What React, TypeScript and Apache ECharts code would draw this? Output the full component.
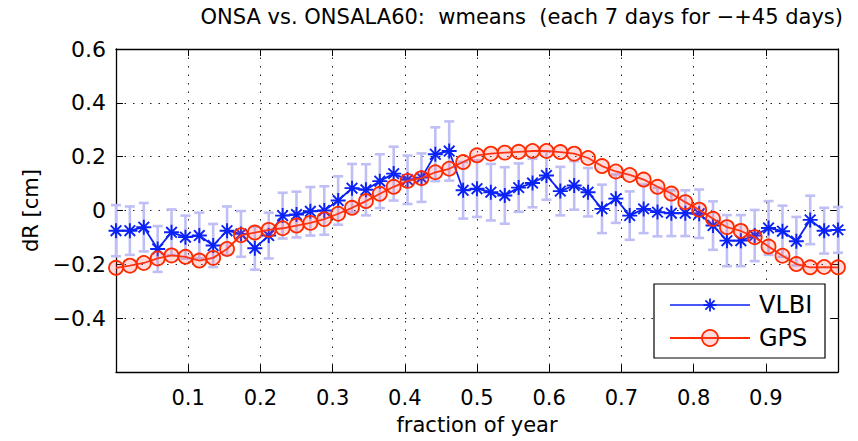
import React, { useEffect, useRef } from 'react';
import * as echarts from 'echarts';

// fraction of year for each 7-day window
const xFrac = [
  0, 0.0192, 0.0385, 0.0577, 0.0769, 0.0962, 0.1154, 0.1346, 0.1538, 0.1731,
  0.1923, 0.2115, 0.2308, 0.25, 0.2692, 0.2885, 0.3077, 0.3269, 0.3462, 0.3654,
  0.3846, 0.4038, 0.4231, 0.4423, 0.4615, 0.4808, 0.5, 0.5192, 0.5385, 0.5577,
  0.5769, 0.5962, 0.6154, 0.6346, 0.6538, 0.6731, 0.6923, 0.7115, 0.7308, 0.75,
  0.7692, 0.7885, 0.8077, 0.8269, 0.8462, 0.8654, 0.8846, 0.9038, 0.9231, 0.9423,
  0.9615, 0.9808, 1.0,
];

// VLBI weighted means [cm]
const vlbi = [
  -0.075, -0.075, -0.062, -0.143, -0.081, -0.099, -0.093, -0.13, -0.075, -0.087,
  -0.14, -0.093, -0.019, -0.015, -0.003, 0.0, 0.037, 0.083, 0.077, 0.109,
  0.137, 0.114, 0.122, 0.209, 0.221, 0.075, 0.081, 0.068, 0.056, 0.085,
  0.102, 0.13, 0.072, 0.093, 0.068, 0.006, 0.044, -0.019, 0.006, -0.006,
  -0.01, -0.01, -0.012, -0.056, -0.112, -0.112, -0.093, -0.065, -0.077, -0.114,
  -0.035, -0.075, -0.072,
];

// VLBI error (half length of bar) [cm]
const vlbiErr = [
  0.095, 0.09, 0.09, 0.085, 0.085, 0.08, 0.085, 0.08, 0.09, 0.085,
  0.08, 0.085, 0.085, 0.085, 0.09, 0.09, 0.09, 0.09, 0.095, 0.1,
  0.1, 0.09, 0.09, 0.1, 0.11, 0.105, 0.105, 0.105, 0.105, 0.09,
  0.09, 0.09, 0.09, 0.09, 0.09, 0.09, 0.09, 0.09, 0.09, 0.09,
  0.085, 0.085, 0.09, 0.09, 0.095, 0.095, 0.095, 0.1, 0.095, 0.09,
  0.09, 0.085, 0.085,
];

// GPS weighted means [cm]
const gps = [
  -0.213, -0.205, -0.195, -0.178, -0.167, -0.172, -0.186, -0.176, -0.143, -0.092,
  -0.082, -0.072, -0.066, -0.056, -0.046, -0.032, -0.012, 0.01, 0.035, 0.062,
  0.088, 0.11, 0.12, 0.142, 0.155, 0.18, 0.205, 0.211, 0.215, 0.218,
  0.221, 0.221, 0.217, 0.211, 0.195, 0.165, 0.145, 0.132, 0.115, 0.088,
  0.063, 0.031, 0.003, -0.031, -0.062, -0.076, -0.099, -0.134, -0.168, -0.199,
  -0.211, -0.21, -0.211,
];

const FONT = 'DejaVu Sans';
const BLUE = '#0a22f5';
const RED = '#ff2a00';
const ERRC = '#bfbff6';
const STAR = 'path://M5,0 L5,10 M0,5 L10,5 M1.46,1.46 L8.54,8.54 M1.46,8.54 L8.54,1.46';

function fmt(v: number): string {
  if (Math.abs(v) < 1e-9) return '0';
  return v.toFixed(1).replace('-', '\u2212');
}

export default function App() {
  const ref = useRef<HTMLDivElement>(null);
  useEffect(() => {
    const chart = echarts.init(ref.current!, null, { renderer: 'svg' });
    const axisLine = { show: true, onZero: false, lineStyle: { color: '#000', width: 1.3 } };
    const tick = { show: true, inside: true, length: 7, lineStyle: { color: '#000', width: 1 } };
    const dotted = { show: true, lineStyle: { color: '#222', width: 1, type: [1.5, 7] } };

    const legendY1 = 305;
    const legendY2 = 338;
    const starArms = [0, 45, 90, 135].map((a) => {
      const r = (a * Math.PI) / 180;
      const L = 6.5;
      return {
        type: 'line',
        shape: { x1: 710 - L * Math.cos(r), y1: legendY1 - L * Math.sin(r), x2: 710 + L * Math.cos(r), y2: legendY1 + L * Math.sin(r) },
        style: { stroke: BLUE, lineWidth: 1.8 },
        z: 101,
      };
    });

    const option: any = {
      animation: false,
      backgroundColor: '#fff',
      title: {
        text: 'ONSA vs. ONSALA60:  wmeans  (each 7 days for \u2212+45 days)',
        right: 15,
        top: 6,
        padding: 0,
        textStyle: { fontFamily: FONT, fontSize: 21, fontWeight: 'normal', color: '#000' },
      },
      grid: { left: 116, right: 20, top: 49, bottom: 69 },
      xAxis: [
        {
          type: 'value',
          min: 0,
          max: 1,
          interval: 0.1,
          position: 'bottom',
          name: 'fraction of year',
          nameLocation: 'middle',
          nameGap: 42,
          nameTextStyle: { fontFamily: FONT, fontSize: 21, color: '#000' },
          axisLine,
          axisTick: tick,
          splitLine: dotted,
          axisLabel: {
            showMinLabel: false,
            showMaxLabel: false,
            margin: 15,
            fontFamily: FONT,
            fontSize: 21,
            color: '#000',
            formatter: (v: number) => v.toFixed(1),
          },
        },
        {
          type: 'value',
          min: 0,
          max: 1,
          interval: 0.1,
          position: 'top',
          axisLine,
          axisTick: tick,
          splitLine: { show: false },
          axisLabel: { show: false },
        },
      ],
      yAxis: [
        {
          type: 'value',
          min: -0.6,
          max: 0.6,
          interval: 0.2,
          position: 'left',
          name: 'dR [cm]',
          nameLocation: 'middle',
          nameGap: 66,
          nameTextStyle: { fontFamily: FONT, fontSize: 21, color: '#000' },
          axisLine,
          axisTick: tick,
          splitLine: dotted,
          axisLabel: {
            showMinLabel: false,
            margin: 10,
            fontFamily: FONT,
            fontSize: 22,
            color: '#000',
            formatter: fmt,
          },
        },
        {
          type: 'value',
          min: -0.6,
          max: 0.6,
          interval: 0.2,
          position: 'right',
          axisLine,
          axisTick: tick,
          splitLine: { show: false },
          axisLabel: { show: false },
        },
      ],
      series: [
        {
          type: 'custom',
          name: 'VLBI err',
          silent: true,
          z: 1,
          xAxisIndex: 0,
          yAxisIndex: 0,
          data: xFrac.map((x, i) => [x, vlbi[i] - vlbiErr[i], vlbi[i] + vlbiErr[i]]),
          encode: { x: 0, y: [1, 2] },
          renderItem: (params: any, api: any) => {
            const x = api.value(0);
            const lo = api.coord([x, api.value(1)]);
            const hi = api.coord([x, api.value(2)]);
            const w = 5;
            const style = { stroke: ERRC, lineWidth: 2.6 };
            return {
              type: 'group',
              children: [
                { type: 'line', shape: { x1: lo[0], y1: lo[1], x2: hi[0], y2: hi[1] }, style },
                { type: 'line', shape: { x1: lo[0] - w, y1: lo[1], x2: lo[0] + w, y2: lo[1] }, style },
                { type: 'line', shape: { x1: hi[0] - w, y1: hi[1], x2: hi[0] + w, y2: hi[1] }, style },
              ],
            };
          },
        },
        {
          type: 'line',
          name: 'VLBI',
          z: 2,
          data: xFrac.map((x, i) => [x, vlbi[i]]),
          symbol: STAR,
          symbolSize: 15,
          showSymbol: true,
          lineStyle: { color: BLUE, width: 1.8 },
          itemStyle: { color: BLUE, borderColor: BLUE, borderWidth: 1.9 },
        },
        {
          type: 'line',
          name: 'GPS',
          z: 3,
          data: xFrac.map((x, i) => [x, gps[i]]),
          symbol: 'circle',
          symbolSize: 14,
          showSymbol: true,
          lineStyle: { color: RED, width: 1.8 },
          itemStyle: { color: 'rgba(255,90,90,0.22)', borderColor: RED, borderWidth: 1.8 },
        },
      ],
      graphic: [
        {
          type: 'rect',
          shape: { x: 654, y: 284, width: 171, height: 74 },
          style: { fill: '#fff', stroke: '#000', lineWidth: 1.2 },
          z: 100,
        },
        {
          type: 'line',
          shape: { x1: 670, y1: legendY1, x2: 750, y2: legendY1 },
          style: { stroke: BLUE, lineWidth: 1.6 },
          z: 101,
        },
        ...starArms,
        {
          type: 'text',
          x: 759,
          y: legendY1,
          style: { text: 'VLBI', fontFamily: FONT, fontSize: 24, fill: '#000', textVerticalAlign: 'middle', verticalAlign: 'middle' },
          z: 101,
        },
        {
          type: 'line',
          shape: { x1: 670, y1: legendY2, x2: 750, y2: legendY2 },
          style: { stroke: RED, lineWidth: 1.8 },
          z: 101,
        },
        {
          type: 'circle',
          shape: { cx: 710, cy: legendY2, r: 8 },
          style: { fill: 'rgba(255,90,90,0.22)', stroke: RED, lineWidth: 1.8 },
          z: 102,
        },
        {
          type: 'text',
          x: 759,
          y: legendY2,
          style: { text: 'GPS', fontFamily: FONT, fontSize: 24, fill: '#000', textVerticalAlign: 'middle', verticalAlign: 'middle' },
          z: 101,
        },
      ],
    };
    chart.setOption(option);
    return () => chart.dispose();
  }, []);
  return <div ref={ref} style={{ position: 'fixed', left: 0, top: 0, width: 858, height: 441 }} />;
}
